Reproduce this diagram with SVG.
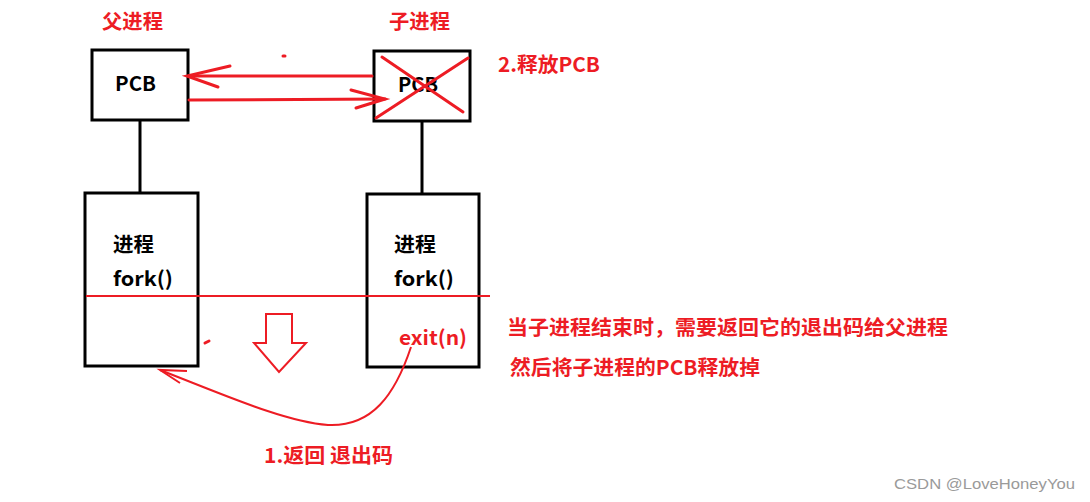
<svg xmlns="http://www.w3.org/2000/svg" width="1090" height="502" viewBox="0 0 1090 502">
<style>
.box{fill:#fff;stroke:#000;stroke-width:3}
.blk{stroke:#000;stroke-width:3;fill:none}
.red{stroke:#ed1c24;stroke-width:3;fill:none;stroke-linecap:round}
.thin{stroke:#ed1c24;stroke-width:2;fill:none}
.t{font-family:"Noto Sans CJK SC","Open Sans",sans-serif;font-weight:bold;font-size:20px}
.tb{fill:#000}
.tr{fill:#ed1c24}
.wm{font-family:"Liberation Sans",Arial,sans-serif;font-size:15px;fill:#9a9a9a}
</style>
<rect width="1090" height="502" fill="#fff"/>
<g id="labels">
<text class="t tr" x="102" y="29" textLength="61" lengthAdjust="spacingAndGlyphs">父进程</text>
<text class="t tr" x="389" y="29" textLength="61" lengthAdjust="spacingAndGlyphs">子进程</text>
<text class="t tr" x="498" y="72" textLength="102" lengthAdjust="spacingAndGlyphs">2.释放PCB</text>
<text class="t tr" x="507" y="335" textLength="441" lengthAdjust="spacingAndGlyphs">当子进程结束时，需要返回它的退出码给父进程</text>
<text class="t tr" x="510" y="375" textLength="250" lengthAdjust="spacingAndGlyphs">然后将子进程的PCB释放掉</text>
<text class="t tr" x="264" y="463" textLength="129" lengthAdjust="spacingAndGlyphs">1.返回 退出码</text>
<text class="wm" x="894" y="489" textLength="181" lengthAdjust="spacingAndGlyphs">CSDN @LoveHoneyYou</text>
</g>
<g id="parent-pcb">
<rect class="box" x="92" y="50" width="96" height="70"/>
<text class="t tb" x="115" y="91" textLength="41" lengthAdjust="spacingAndGlyphs">PCB</text>
</g>
<g id="child-pcb">
<rect class="box" x="374" y="51" width="96" height="70"/>
<text class="t tb" x="398" y="92" textLength="40" lengthAdjust="spacingAndGlyphs">PCB</text>
<line class="red" x1="382" y1="57" x2="463" y2="112" stroke-width="2.5"/>
<line class="red" x1="468" y1="58" x2="376" y2="118" stroke-width="2.5"/>
</g>
<g id="parent-proc">
<rect class="box" x="85" y="193" width="113" height="173"/>
<text class="t tb" x="113" y="252" textLength="41" lengthAdjust="spacingAndGlyphs">进程</text>
<text class="t tb" x="113" y="286" textLength="60" lengthAdjust="spacingAndGlyphs">fork()</text>
</g>
<g id="child-proc">
<rect class="box" x="367" y="194" width="112" height="173"/>
<text class="t tb" x="394" y="252" textLength="42" lengthAdjust="spacingAndGlyphs">进程</text>
<text class="t tb" x="394" y="286" textLength="60" lengthAdjust="spacingAndGlyphs">fork()</text>
<text class="t tr" x="399" y="345" textLength="68" lengthAdjust="spacingAndGlyphs">exit(n)</text>
</g>
<g id="connectors">
<line class="blk" x1="140" y1="120" x2="140" y2="193"/>
<line class="blk" x1="422" y1="121" x2="422" y2="194"/>
<line class="red" x1="372" y1="76" x2="189" y2="76"/>
<polyline class="red" points="230,66 187,76 218,87"/>
<line class="red" x1="189" y1="100" x2="385" y2="99"/>
<polyline class="red" points="351,90 385,99 356,108"/>
<line class="thin" x1="86" y1="296" x2="490" y2="296"/>
<polygon class="thin" points="266,314 292,314 292,343 306,343 279,372 254,343 266,343"/>
<path class="thin" d="M411,347 C395,395 372,427 328,425 C285,422 222,394 160,370"/>
<polyline class="thin" points="187,371 160,370 180,383"/>
<line class="red" x1="283" y1="56" x2="285" y2="56" stroke-width="2"/>
<line class="red" x1="205" y1="343" x2="209" y2="341" stroke-width="2"/>
</g>
</svg>
